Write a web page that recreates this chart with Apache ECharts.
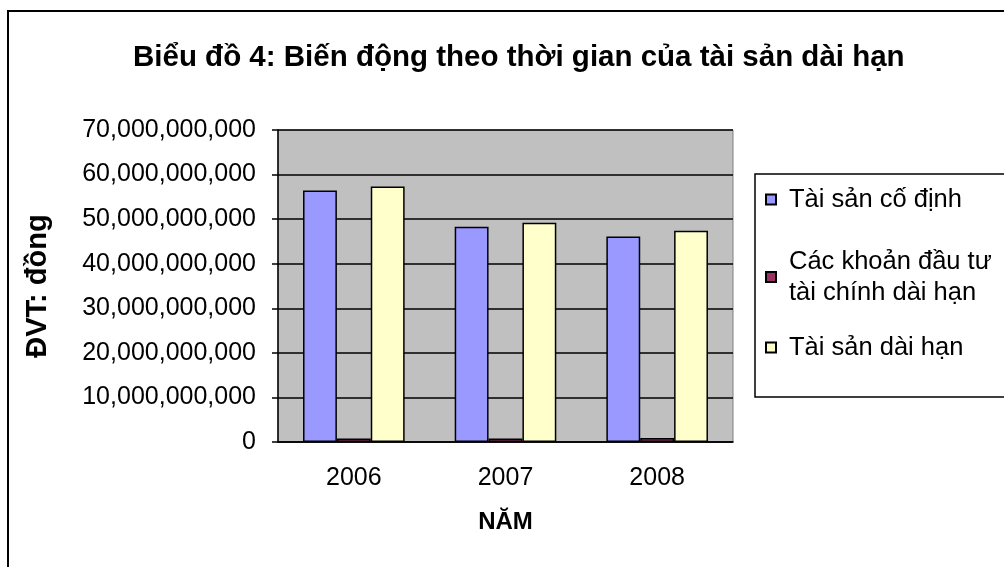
<!DOCTYPE html>
<html><head><meta charset="utf-8">
<script src="https://cdn.jsdelivr.net/npm/echarts@6/dist/echarts.min.js"></script>
<style>html,body{margin:0;padding:0;background:#fff}#c{width:1004px;height:567px}</style>
</head><body><div id="c"></div>
<script>
const categories = ['2006', '2007', '2008'];
const taiSanCoDinh = [56400000000, 48300000000, 46100000000];
const dauTuTaiChinh = [800000000, 800000000, 900000000];
const taiSanDaiHan = [57300000000, 49200000000, 47400000000];
const seriesNames = ['Tài sản cố định', 'Các khoản đầu tư\ntài chính dài hạn', 'Tài sản dài hạn'];
const yTicks = [0, 10000000000, 70000000000];
const FONT = 'Liberation Sans, Arial, sans-serif';

function fmt(v){ return String(v).replace(/\B(?=(\d{3})+(?!\d))/g, ','); }

const chart = echarts.init(document.getElementById('c'), null, {renderer:'canvas'});
const bar = (name, data, color) => ({
  name, type:'bar', data, barGap:'0%', barCategoryGap:'33%',
  itemStyle:{color, borderColor:'#000', borderWidth:1.5}
});
chart.setOption({
  animation:false,
  title:{text:'Biểu đồ 4: Biến động theo thời gian của tài sản dài hạn', left:128, top:38,
    textStyle:{fontFamily:FONT, fontWeight:'bold', fontSize:29.5, color:'#000'}},
  graphic:[
    {type:'rect', shape:{x:8, y:11, width:1010, height:570}, style:{fill:null, stroke:'#000', lineWidth:2}, z:-10},
    {type:'rect', shape:{x:755, y:174, width:260, height:223}, style:{fill:'#fff', stroke:'#000', lineWidth:1.5}, z:-5}
  ],
  legend:[
    {data:[seriesNames[0]], left:765, top:184},
    {data:[seriesNames[1]], left:765, top:246},
    {data:[seriesNames[2]], left:765, top:332}
  ].map(l => Object.assign({orient:'vertical', icon:'rect', itemWidth:10, itemHeight:10, padding:0,
      textStyle:{fontFamily:FONT, fontSize:25.5, color:'#000', lineHeight:31, padding:[0,0,0,8]}}, l)),
  grid:{left:278, right:271, top:130, bottom:125, show:true, backgroundColor:'#C0C0C0', borderColor:'#808080', borderWidth:1},
  xAxis:{type:'category', data:categories,
    name:'NĂM', nameLocation:'middle', nameGap:68,
    nameTextStyle:{fontFamily:FONT, fontWeight:'bold', fontSize:24, color:'#000'},
    axisLine:{lineStyle:{color:'#000', width:1.5}},
    axisTick:{length:7, lineStyle:{color:'#000', width:1.5}},
    axisLabel:{fontFamily:FONT, fontSize:25, color:'#000', margin:24}},
  yAxis:{type:'value', min:yTicks[0], max:yTicks[2], interval:yTicks[1],
    name:'ĐVT: đồng', nameLocation:'middle', nameGap:226,
    nameTextStyle:{fontFamily:FONT, fontWeight:'bold', fontSize:29, color:'#000'},
    axisLine:{show:true, lineStyle:{color:'#000', width:1.5}},
    axisTick:{show:true, length:6, lineStyle:{color:'#000', width:1.5}},
    splitLine:{lineStyle:{color:'#000', width:1.5}},
    axisLabel:{fontFamily:FONT, fontSize:25, color:'#000', margin:22, formatter:fmt}},
  series:[
    bar(seriesNames[0], taiSanCoDinh, '#9999FF'),
    bar(seriesNames[1], dauTuTaiChinh, '#993366'),
    bar(seriesNames[2], taiSanDaiHan, '#FFFFCC')
  ]
});
</script></body></html>
